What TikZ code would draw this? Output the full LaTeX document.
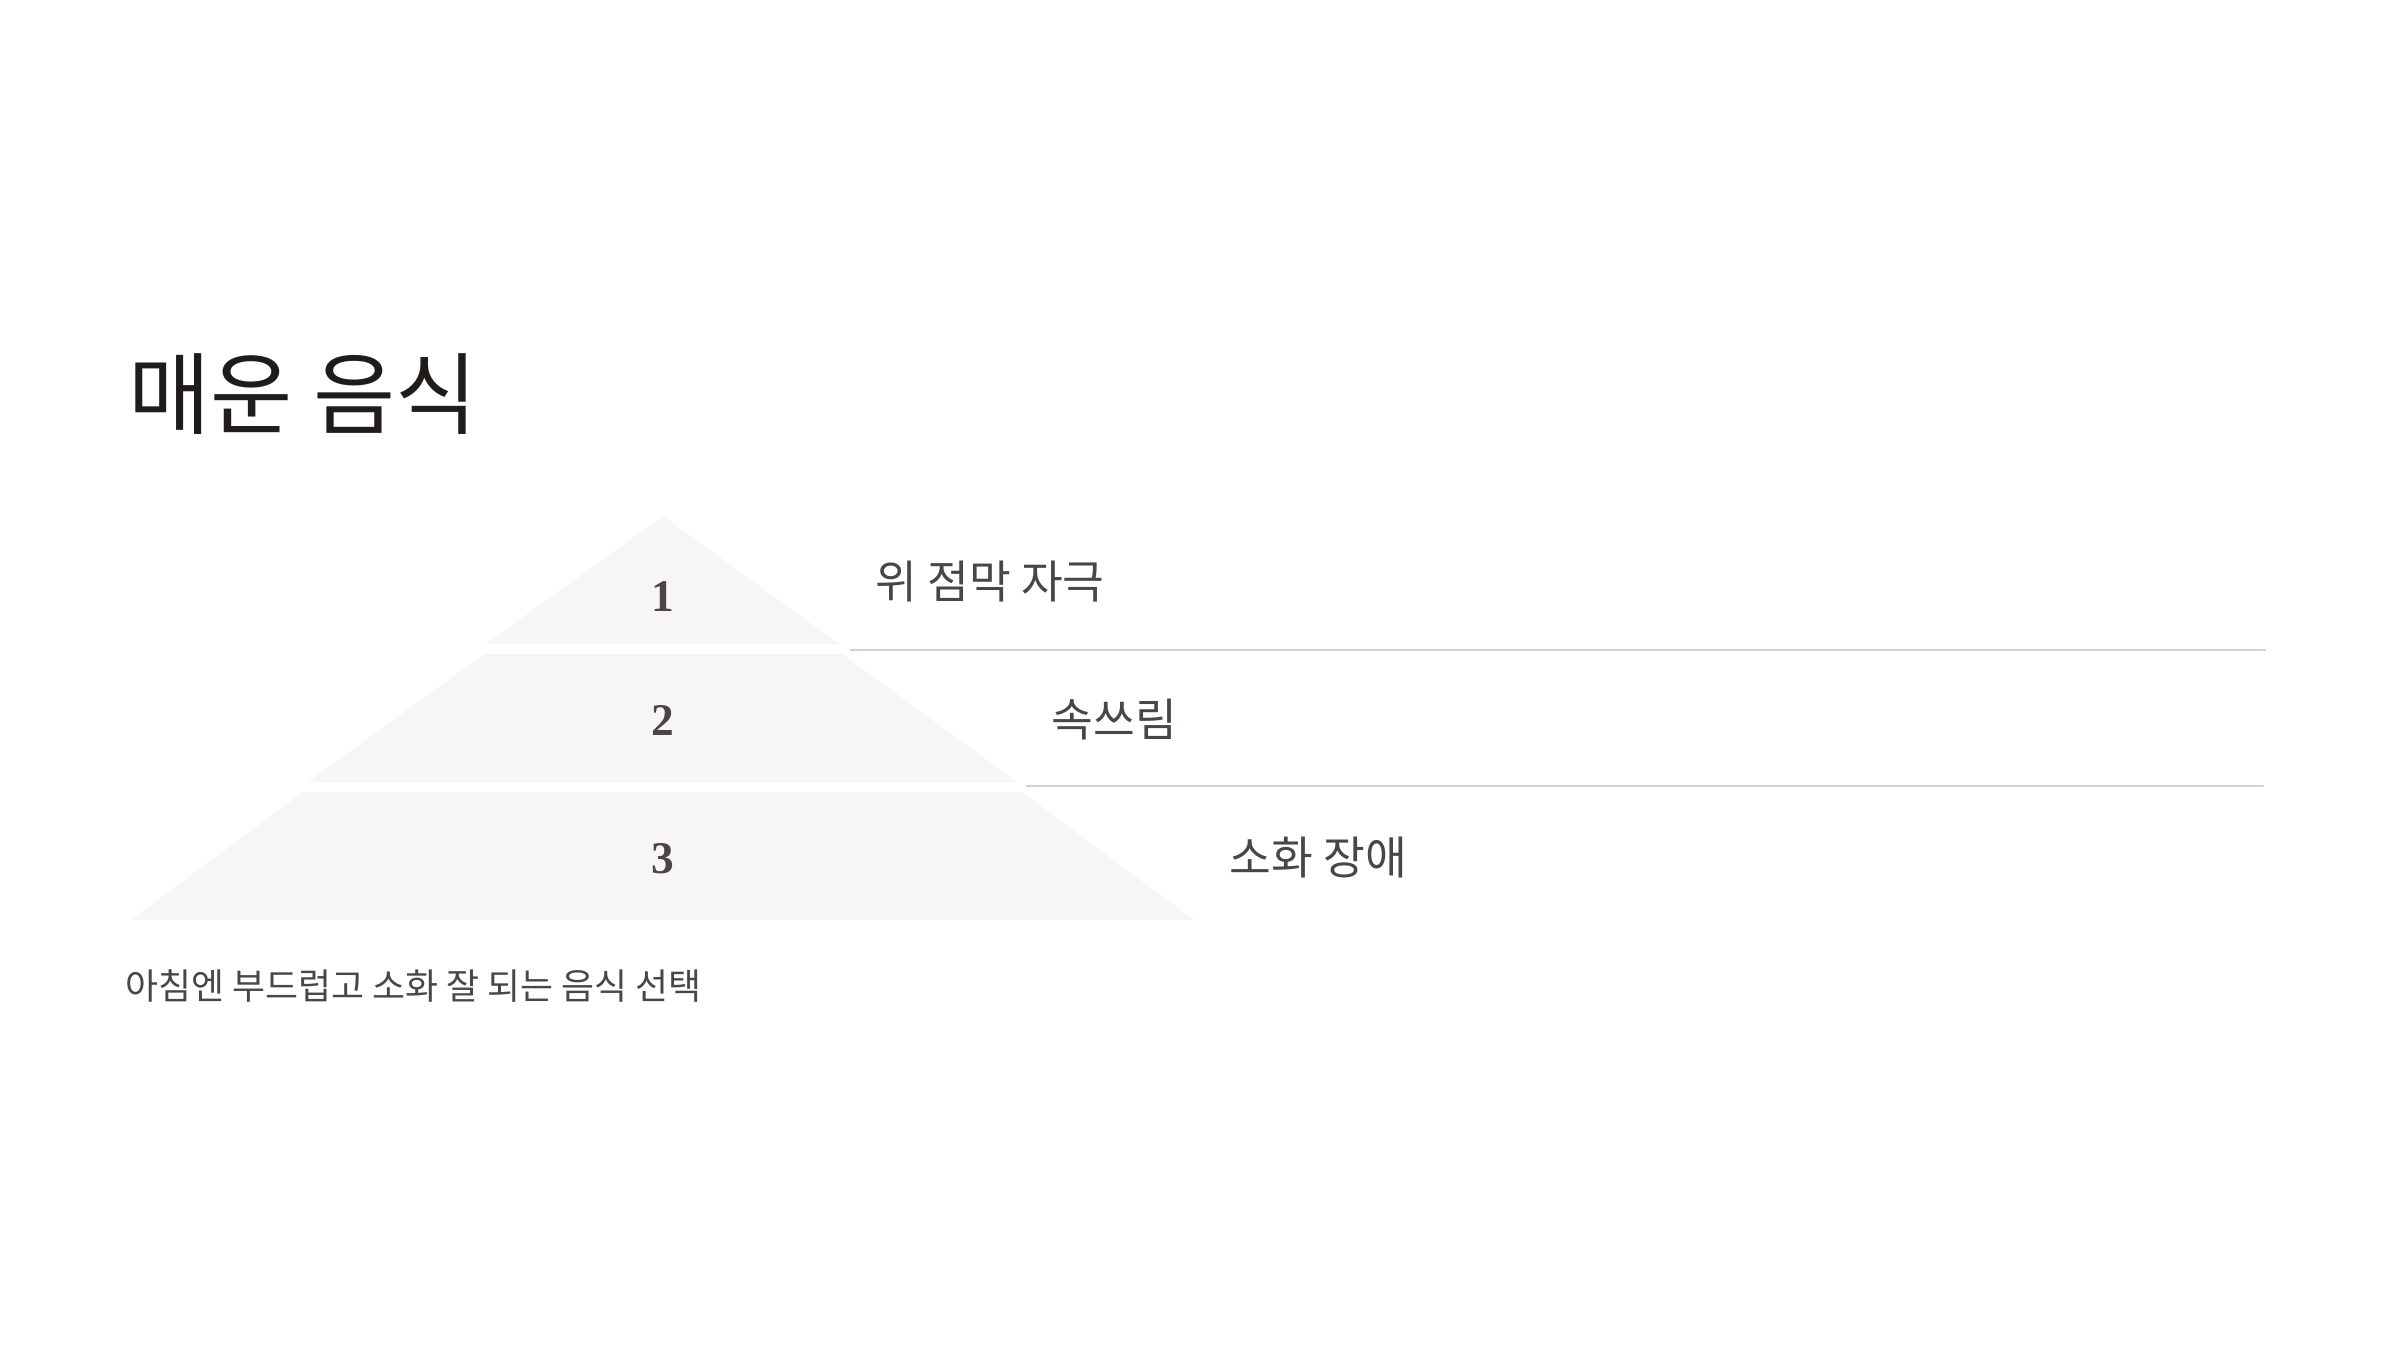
\documentclass[tikz,border=0pt]{standalone}
\usepackage{fontspec}
\newfontfamily\krfont{Noto Sans CJK KR}
\newfontfamily\numfont{Liberation Serif}
\usepackage{tikz}
\definecolor{titlecol}{HTML}{1F1C1A}
\definecolor{textcol}{HTML}{4A4644}
\definecolor{tiercol}{HTML}{F7F5F5}
\definecolor{rulecol}{HTML}{D4D0D0}

\begin{document}
\begin{tikzpicture}[x=0.01cm, y=-0.01cm,
    tier/.style={fill=tiercol, draw=none},
    rule/.style={draw=rulecol, line width=0.6pt},
    itemtext/.style={anchor=west, inner sep=0pt, text=textcol, font=\krfont\fontsize{12.9}{15}\selectfont},
    tiernum/.style={inner sep=0pt, text=textcol, font=\numfont\bfseries\fontsize{12.9}{15}\selectfont}]
    % 캔버스 크기
    \useasboundingbox (0,0) rectangle (2400,1350);

    % 피라미드 세 단
    \fill[tier] (663,516) -- (839,644) -- (486,644) -- cycle;
    \fill[tier] (484,654) -- (842,654) -- (1017,782) -- (308,782) -- cycle;
    \fill[tier] (303,792) -- (1022,792) -- (1194,920) -- (131,920) -- cycle;

    % 단계 번호
    \node[tiernum] (n1) at (663,597) {1};
    \node[tiernum] (n2) at (663,720) {2};
    \node[tiernum] (n3) at (663,859) {3};

    % 구분선
    \coordinate (L1a) at (850,650);
    \coordinate (L1b) at (2266,650);
    \coordinate (L2a) at (1026,786);
    \coordinate (L2b) at (2264,786);
    \draw[rule] (L1a) -- (L1b);
    \draw[rule] (L2a) -- (L2b);

    % 항목
    \node[itemtext] (t1) at (875,582) {위 점막 자극};
    \node[itemtext] (t2) at (1051,720) {속쓰림};
    \node[itemtext] (t3) at (1229,857) {소화 장애};

    % 제목과 설명
    \node[anchor=west, inner sep=0pt, text=titlecol, font=\krfont\fontsize{25.4}{30}\selectfont] (title) at (128,394) {매운 음식};
    \node[anchor=west, inner sep=0pt, text=textcol, font=\krfont\fontsize{10.2}{12}\selectfont] (note) at (125,986) {아침엔 부드럽고 소화 잘 되는 음식 선택};
\end{tikzpicture}
\end{document}
